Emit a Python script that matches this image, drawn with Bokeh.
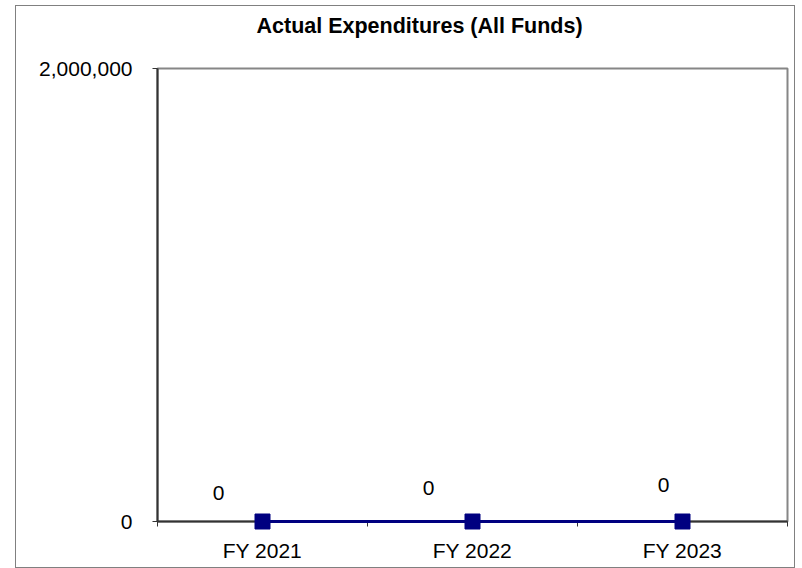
from bokeh.plotting import figure
from bokeh.models import ColumnDataSource, FixedTicker, NumeralTickFormatter, Range1d
from bokeh.embed import file_html
from bokeh.resources import INLINE
from bokeh.core.properties import value

title_text = "Actual Expenditures (All Funds)"
categories = ["FY 2021", "FY 2022", "FY 2023"]
expenditures = [0, 0, 0]
y_ticks = [0, 2000000]
label_text = ["0", "0", "0"]
# label offsets (style only, screen px)
label_dx = [-44, -44, -19]
label_dy = [-29, -34, -37]

xs = [i + 0.5 for i in range(len(categories))]
src = ColumnDataSource(dict(x=xs, y=expenditures, t=label_text, dx=label_dx, dy=label_dy))

FONT = "Liberation Sans"

p = figure(frame_width=630, frame_height=453, output_backend="svg", toolbar_location=None,
           x_range=Range1d(0, len(categories)), y_range=Range1d(0, y_ticks[-1]),
           min_border_left=141, min_border_right=7, min_border_top=62, min_border_bottom=46,
           styles={"border": "1px solid #808080", "margin-left": "15px", "margin-top": "5px"})

# chart title, anchored to the top-left corner of the plot area
rt = p.text(x=[0], y=[y_ticks[-1]], text=[title_text], x_offset=99, y_offset=-43,
            text_font=value(FONT), text_font_size="21.5px", text_font_style="bold",
            text_color="black", text_align="left", text_baseline="middle")
rt.level = "overlay"

p.grid.visible = False
p.outline_line_color = "#868686"
p.outline_line_width = 2
p.background_fill_color = "white"
p.border_fill_color = "white"

# x axis
xt = FixedTicker(ticks=xs, minor_ticks=[0, 1, 2, 3])
p.xaxis.ticker = xt
p.xaxis.major_label_overrides = {x: c for x, c in zip(xs, categories)}
p.xaxis.major_tick_out = 0
p.xaxis.major_tick_in = 0
p.xaxis.minor_tick_out = 5
p.xaxis.minor_tick_in = 0
p.xaxis.minor_tick_line_color = "#333333"
p.xaxis.axis_line_color = "#333333"
p.xaxis.axis_line_width = 2
p.xaxis.major_label_standoff = 12
p.xaxis.major_label_text_font = FONT
p.xaxis.major_label_text_font_size = "21px"
p.xaxis.major_label_text_color = "black"

# y axis
p.yaxis.ticker = FixedTicker(ticks=y_ticks, minor_ticks=[])
p.yaxis.formatter = NumeralTickFormatter(format="0,0")
p.yaxis.major_tick_out = 5
p.yaxis.major_tick_in = 0
p.yaxis.major_tick_line_color = "#333333"
p.yaxis.axis_line_color = "#333333"
p.yaxis.axis_line_width = 2
p.yaxis.major_label_standoff = 20
p.yaxis.major_label_text_font = FONT
p.yaxis.major_label_text_font_size = "21px"
p.yaxis.major_label_text_color = "black"

r1 = p.line("x", "y", source=src, line_color="#000080", line_width=3)
r2 = p.scatter("x", "y", source=src, marker="square", size=15,
               fill_color="#000080", line_color="#000080")
r1.level = "overlay"
r2.level = "overlay"

p.text("x", "y", text="t", source=src, x_offset="dx", y_offset="dy",
       text_align="center", text_baseline="middle",
       text_font=value(FONT), text_font_size="21px", text_color="black")

open("out.html", "w").write(file_html(p, INLINE))
